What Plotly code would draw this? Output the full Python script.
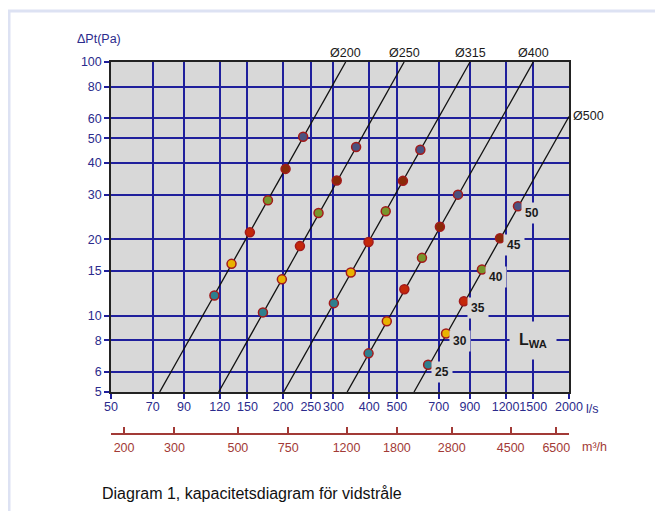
import numpy as np
import plotly.graph_objects as go

# ---------------- data ----------------
diameters = ["Ø200", "Ø250", "Ø315", "Ø400", "Ø500"]
# straight duct lines (read at their two ends): flow l/s and pressure Pa
line_q_start = [74, 119, 201, 335, 574]
line_p_start = [5, 5, 5, 5, 5]
line_q_end = [331, 530, 901, 1500, 2000]
line_p_end = [100, 100, 100, 100, 61]

# sound power levels marked on each line
lwa_levels = [25, 30, 35, 40, 45, 50]
lwa_colors = ["#2e7f8e", "#e9b200", "#c4280a", "#78962c", "#8a2a08", "#4b5280"]

q_200 = [115, 132, 153, 177, 204, 235]
p_200 = [12.0, 16.0, 21.3, 28.5, 37.9, 50.7]
q_250 = [170, 198, 229, 266, 308, 360]
p_250 = [10.3, 13.9, 18.8, 25.4, 34.1, 46.2]
q_315 = [301, 345, 398, 457, 525, 604]
p_315 = [11.2, 14.8, 19.5, 25.8, 34.0, 45.1]
q_400 = [398, 461, 531, 612, 707, 818]
p_400 = [7.1, 9.5, 12.7, 16.9, 22.4, 30.0]
q_500 = [643, 743, 858, 992, 1147, 1326]
p_500 = [6.4, 8.5, 11.4, 15.2, 20.2, 27.0]

marker_q = [q_200, q_250, q_315, q_400, q_500]
marker_p = [p_200, p_250, p_315, p_400, p_500]

x_ticks = [50, 70, 90, 120, 150, 200, 250, 300, 400, 500, 700, 900, 1200, 1500, 2000]
y_ticks = [5, 6, 8, 10, 15, 20, 30, 40, 50, 60, 80, 100]
m3h_ticks = [200, 300, 500, 750, 1200, 1800, 2800, 4500, 6500]
x_range = [50, 2000]
y_range = [5, 100]
m3h_range = [180, 7200]

LWA_pos = (1500, 8)

# ---------------- style ----------------
FONT = "Liberation Sans, Arial, sans-serif"
BLUE_TXT = "#2b2b8c"
GRID = "#1f1f9c"
BROWN = "#a23a36"
BG = "#d8d8d8"

fig = go.Figure()

for name, qa, pa, qb, pb in zip(diameters, line_q_start, line_p_start, line_q_end, line_p_end):
    fig.add_trace(go.Scatter(x=[qa, qb], y=[pa, pb], mode="lines",
                             line=dict(color="#111111", width=1.3),
                             hoverinfo="skip", showlegend=False))

for qs, ps in zip(marker_q, marker_p):
    fig.add_trace(go.Scatter(x=qs, y=ps, mode="markers",
                             marker=dict(size=9, color=lwa_colors,
                                         line=dict(color="#a31a1a", width=1.5)),
                             hoverinfo="skip", showlegend=False))

# invisible trace to carry the m3/h axis
fig.add_trace(go.Scatter(x=m3h_ticks, y=[y_range[0]] * len(m3h_ticks), xaxis="x2",
                         mode="markers", marker=dict(opacity=0), hoverinfo="skip",
                         showlegend=False))

annotations = []
# diameter labels
for i, name in enumerate(diameters):
    if i < 4:
        annotations.append(dict(x=np.log10(line_q_end[i]), y=np.log10(line_p_end[i]),
                                xref="x", yref="y", text=name, showarrow=False,
                                xanchor="center", yanchor="bottom", yshift=0,
                                font=dict(family=FONT, size=12.5, color="#1a1a1a")))
    else:
        annotations.append(dict(x=np.log10(line_q_end[i]), y=np.log10(line_p_end[i]),
                                xref="x", yref="y", text=name, showarrow=False,
                                xanchor="left", yanchor="middle", xshift=2,
                                font=dict(family=FONT, size=12.5, color="#1a1a1a")))

# LWA level labels next to the Ø500 markers
for lvl, q, p in zip(lwa_levels, q_500, p_500):
    annotations.append(dict(x=np.log10(q), y=np.log10(p), xref="x", yref="y",
                            text=f"<b>{lvl}</b>", showarrow=False,
                            xanchor="center", yanchor="middle", xshift=14, yshift=-7,
                            bgcolor=BG, borderpad=3,
                            font=dict(family=FONT, size=12, color="#1a1a1a")))

annotations.append(dict(x=np.log10(LWA_pos[0]), y=np.log10(LWA_pos[1]), xref="x", yref="y",
                        text="<b>L<sub>WA</sub></b>", showarrow=False,
                        xanchor="center", yanchor="middle",
                        bgcolor=BG, borderpad=9,
                        font=dict(family=FONT, size=16, color="#1a1a1a")))

annotations += [
    dict(x=-0.079, y=1.062, xref="paper", yref="paper", text="ΔPt(Pa)", showarrow=False,
         xanchor="left", yanchor="middle", font=dict(family=FONT, size=12.5, color=BLUE_TXT)),
    dict(x=1.032, y=0.067, xref="paper", yref="paper", text="l/s", showarrow=False,
         xanchor="left", yanchor="middle", font=dict(family=FONT, size=12.5, color=BLUE_TXT)),
    dict(x=1.024, y=-0.034, xref="paper", yref="paper", text="m³/h", showarrow=False,
         xanchor="left", yanchor="middle", font=dict(family=FONT, size=12.5, color=BROWN)),
    dict(x=-0.024, y=-0.159, xref="paper", yref="paper",
         text="Diagram 1, kapacitetsdiagram för vidstråle", showarrow=False,
         xanchor="left", yanchor="middle", font=dict(family=FONT, size=16, color="#111111")),
]

# page body has an 8px margin: figure placed at (8, 8)
fig.update_layout(
    width=655, height=503,
    margin=dict(l=103, r=94, t=54, b=77, pad=0),
    paper_bgcolor="white", plot_bgcolor=BG,
    showlegend=False, hovermode=False,
    font=dict(family=FONT),
    xaxis=dict(type="log", range=[np.log10(x_range[0]), np.log10(x_range[1])],
               tickvals=x_ticks, ticktext=[str(v) for v in x_ticks], tickangle=0,
               ticks="outside", ticklen=5, tickwidth=1.5, tickcolor=GRID,
               showgrid=True, gridcolor=GRID, gridwidth=1.5,
               showline=True, linecolor="#222222", linewidth=1.5, mirror=True,
               tickfont=dict(family=FONT, size=12.5, color=BLUE_TXT),
               ticklabelstandoff=-3,
               zeroline=False, anchor="y"),
    yaxis=dict(type="log", range=[np.log10(y_range[0]), np.log10(y_range[1])],
               domain=[0.1129, 1],
               tickvals=y_ticks, ticktext=[str(v) for v in y_ticks],
               ticks="outside", ticklen=5, tickwidth=1.5, tickcolor=GRID,
               showgrid=True, gridcolor=GRID, gridwidth=1.5,
               showline=True, linecolor="#222222", linewidth=1.5, mirror=True,
               tickfont=dict(family=FONT, size=12.5, color=BLUE_TXT),
               zeroline=False),
    xaxis2=dict(type="log", range=[np.log10(m3h_range[0]), np.log10(m3h_range[1])],
                overlaying="x", anchor="free", position=0, side="bottom",
                tickvals=m3h_ticks, ticktext=[str(v) for v in m3h_ticks], tickangle=0,
                ticks="inside", ticklen=6, tickwidth=1.5, tickcolor=BROWN,
                showgrid=False, showline=True, linecolor=BROWN, linewidth=2,
                tickfont=dict(family=FONT, size=12.5, color=BROWN),
                ticklabelstandoff=2, zeroline=False),
    annotations=annotations,
    shapes=[dict(type="rect", xref="paper", yref="paper",
                 x0=-0.2227, x1=1.25, y0=-0.30, y1=1.137,
                 line=dict(color="#dde2f3", width=3), fillcolor="rgba(0,0,0,0)",
                 layer="below")],
)

fig.write_html("out.html")
